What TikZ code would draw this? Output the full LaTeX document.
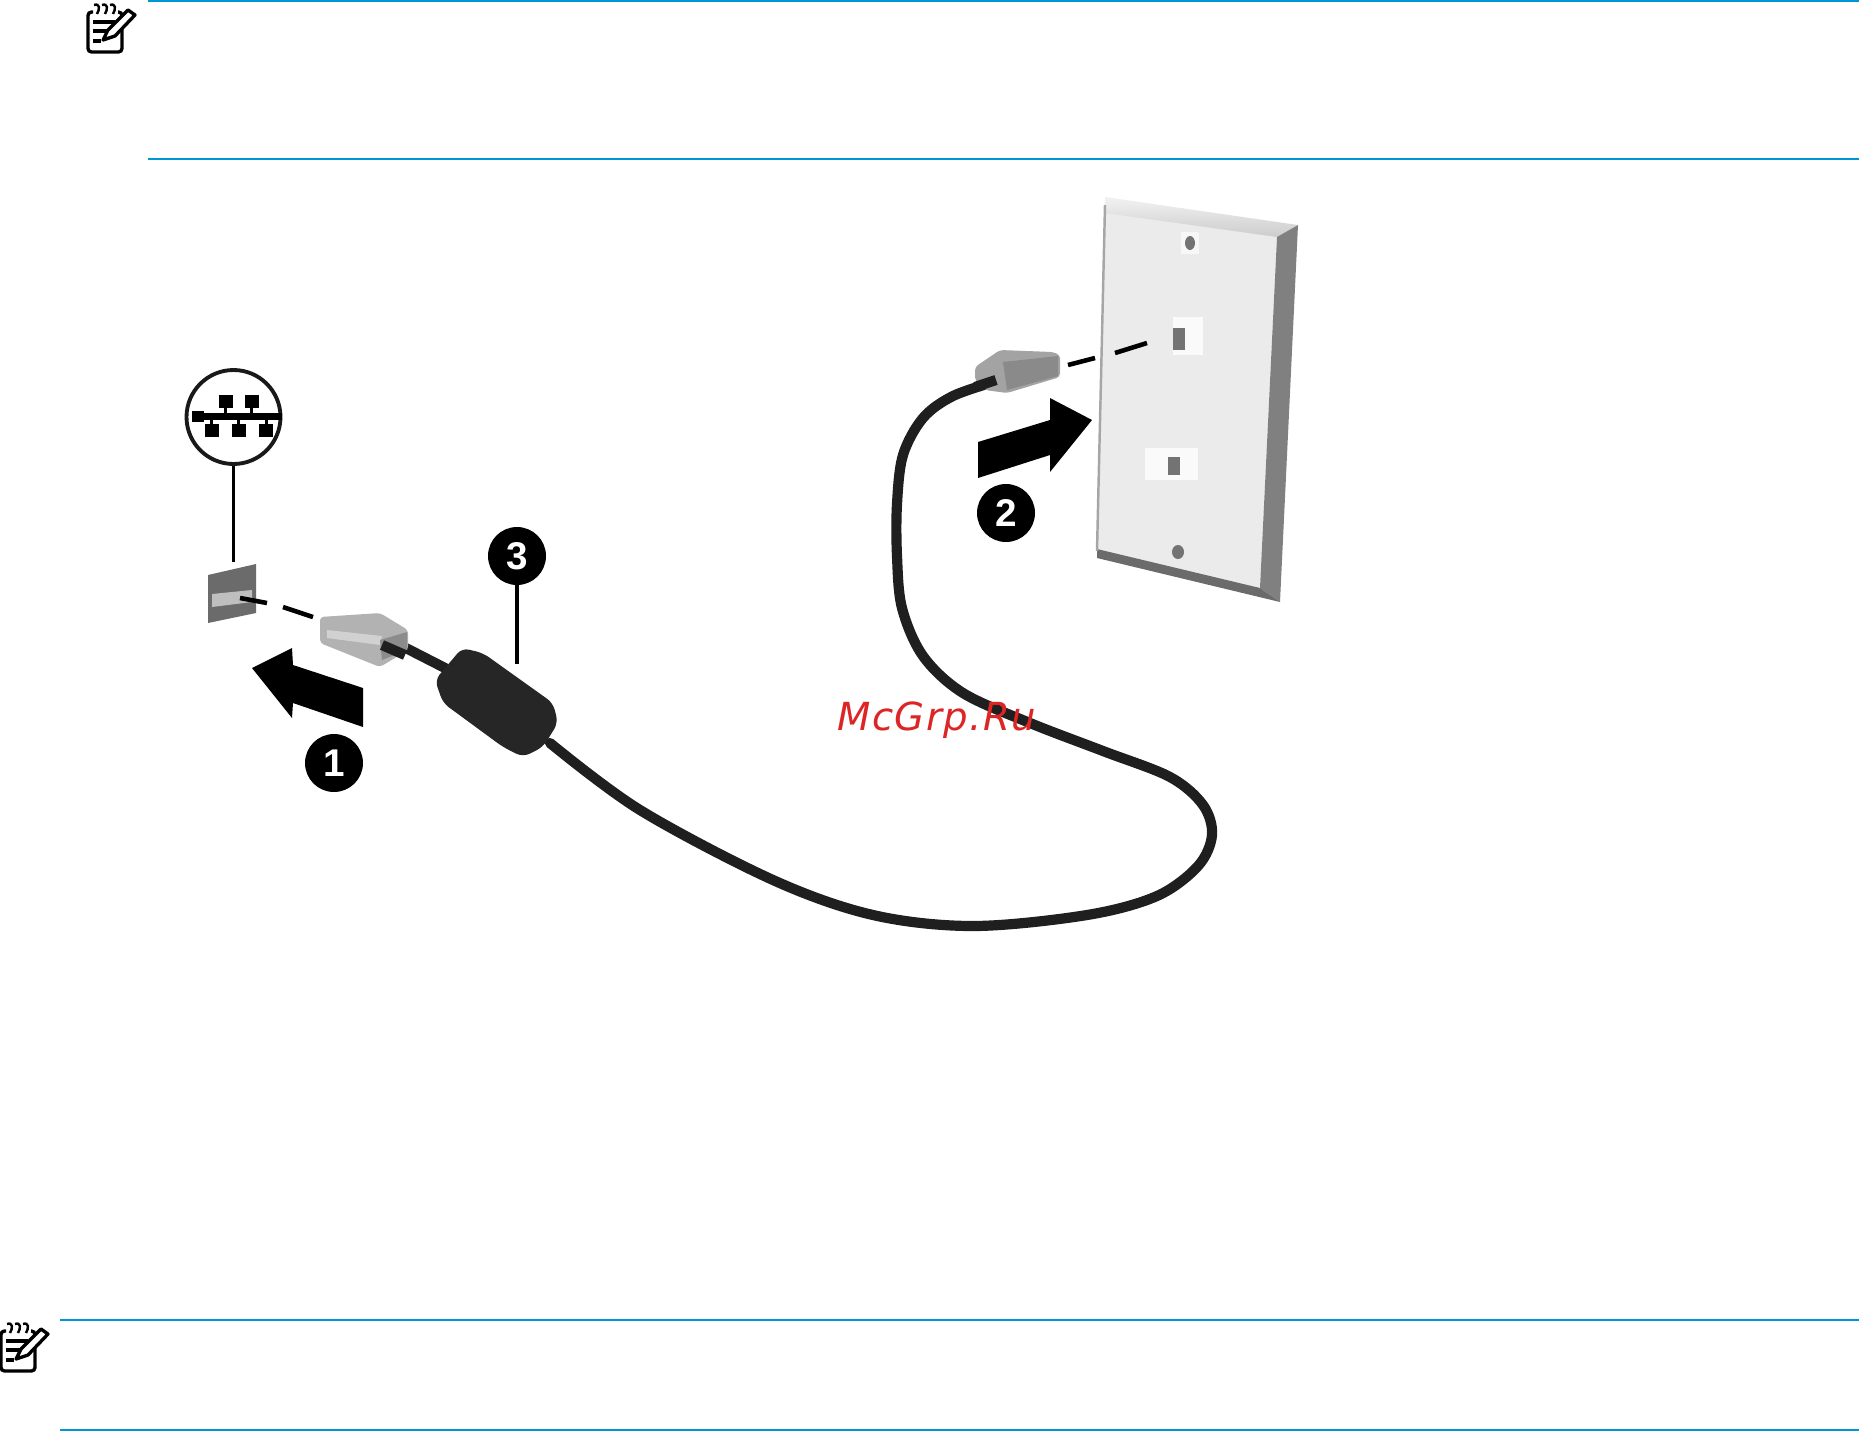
\documentclass[tikz,border=0pt]{standalone}
\usepackage{fontspec}
\setmainfont{DejaVu Sans}
\newfontfamily\badgefont{Liberation Sans}
\newfontfamily\markfont[LetterSpace=3.8]{DejaVu Sans}
\usepackage{tikz}
\definecolor{hpblue}{HTML}{0096D6}
\definecolor{markred}{HTML}{DC2626}
\tikzset{
	badge/.style={circle, fill=black, text=white, minimum size=1.16cm, inner sep=0pt, font=\badgefont\bfseries\fontsize{22}{22}\selectfont},
	leader/.style={line width=2.2pt, color=black},
	notepen/.style={line width=1.9pt, color=black},
	rulebar/.style={line width=1.1pt, color=hpblue},
	cablewire/.style={line width=5.8pt, color=black!88, line cap=round},
	dashbit/.style={line width=2.6pt, color=black},
}
\def\noteicon(#1,#2){
	\begin{scope}[shift={(#1,#2)}]
		\draw[notepen, rounded corners=2pt] (30,12) -- (34,12) -- (34,52) -- (0,52) -- (0,12) -- (5,12);
		\foreach \ringx in {9,17,25}
			\draw[notepen, line width=1.4pt] (\ringx-3,5) .. controls (\ringx+3,3) and (\ringx+3,9) .. (\ringx,14);
		\draw[notepen, line width=2.2pt] (5,22) -- (27,22);
		\draw[notepen, line width=2.2pt] (5,31) -- (19,31);
		\draw[notepen, line width=2.2pt] (5,41) -- (13,41);
		\draw[notepen, fill=white, line join=round] (15,40) -- (20,30) -- (40,10) -- (47,15) -- (27,36) -- cycle;
		\fill[black] (15,40) -- (17,35) -- (20,38) -- cycle;
	\end{scope}
}
\begin{document}
\begin{tikzpicture}[x=0.02cm, y=-0.02cm]
	%%%%% START %%%%%
	\useasboundingbox (0,0) rectangle (1859,1431);

	% rules and note icons
	\draw[rulebar] (148,1) -- (1859,1);
	\draw[rulebar] (148,159) -- (1859,159);
	\draw[rulebar] (60,1320) -- (1859,1320);
	\draw[rulebar] (60,1430) -- (1859,1430);
	\noteicon(88,0)
	\noteicon(1,1319)

	% wall plate
	\fill[black!8] (1105,197) -- (1277,225) -- (1277,237) -- (1260,590) -- (1097,553) -- cycle;
	\shade[top color=black!5, bottom color=black!20] (1105,197) -- (1298,225) -- (1277,237) -- (1105,213) -- cycle;
	\fill[black!50] (1298,225) -- (1280,602) -- (1260,588) -- (1277,237) -- cycle;
	\fill[black!58] (1097,549) -- (1260,588) -- (1280,602) -- (1097,558) -- cycle;
	\draw[line width=1.4pt, color=black!35] (1105,205) -- (1097,551);

	\fill[black!3] (1181,232) rectangle (1199,254);
	\fill[black!55] (1190,243) ellipse (5 and 7);
	\fill[black!55] (1178,552) ellipse (6 and 7);
	\fill[black!2] (1173,317) rectangle (1203,355);
	\fill[black!55] (1173,328) rectangle (1185,350);
	\fill[black!2] (1145,448) rectangle (1198,480);
	\fill[black!55] (1168,457) rectangle (1180,475);

	% cable
	\draw[cablewire] plot[smooth, tension=0.55] coordinates {(550,743) (640,810) (773,880) (873,915) (973,926) (1087,915) (1157,896) (1198,866) (1212,835) (1203,805) (1170,777) (1103,751) (1030,723) (963,693) (923,656) (902,608) (897,556) (897,504) (903,455) (923,418) (953,396) (997,381)};
	\draw[cablewire] (400,645) -- (445,668);

	% plug at the wall
	\fill[black!36, rounded corners=2pt] (975,367) -- (1000,350) -- (1053,352) -- (1060,355) -- (1060,377) -- (1007,393) -- (985,390) -- (975,380) -- cycle;
	\fill[black!46] (1003,362) -- (1058,356) -- (1058,376) -- (1007,390) -- cycle;
	\draw[cablewire, line cap=butt] (975,387) -- (996,380);
	\draw[dashbit] (1068,365) -- (1095,358);
	\draw[dashbit] (1115,353) -- (1147,343);

	% arrow and badge at the wall
	\fill[black] (978,442) -- (1050,420) -- (1050,398) -- (1092,420) -- (1050,472) -- (1050,455) -- (978,478) -- cycle;
	\node[badge] (two) at (1006,513) {2};

	% network jack
	\fill[black!58] (208,575) -- (256,564) -- (256,613) -- (208,623) -- cycle;
	\fill[black!25] (212,594) -- (252,590) -- (252,602) -- (212,607) -- cycle;
	\coordinate (jacktop) at (233.5,562);
	\draw[dashbit] (240,598) -- (267,603);
	\draw[dashbit] (283,607) -- (313,617);

	% network symbol
	\node[circle, draw=black!90, line width=2.2pt, minimum size=1.88cm, inner sep=0pt] (netsym) at (233.5,417) {};
	\draw[leader] (netsym) -- (jacktop);
	\fill[black] (192,413) rectangle (282,420);
	\fill[black] (192,411) rectangle (204,422);
	\foreach \termx in {225.5,251.5} {
		\fill[black] (\termx-7,395) rectangle (\termx+7,408);
		\fill[black] (\termx-1.5,408) rectangle (\termx+1.5,413);
	}
	\foreach \termx in {211.5,238.5,266} {
		\fill[black] (\termx-7,424) rectangle (\termx+7,437);
		\fill[black] (\termx-1.5,420) rectangle (\termx+1.5,424);
	}

	% plug at the jack
	\fill[black!30, rounded corners=2pt] (320,617) -- (380,613) -- (408,630) -- (408,650) -- (380,667) -- (320,643) -- cycle;
	\fill[black!18] (327,630) -- (382,636) -- (380,645) -- (327,638) -- cycle;
	\fill[black!45] (380,640) -- (407,632) -- (407,650) -- (382,660) -- cycle;
	\draw[cablewire, line cap=butt] (382,645) -- (405,655);

	% arrow and badge at the jack
	\fill[black] (252,668) -- (292,648) -- (293,665) -- (363,688) -- (363,727) -- (293,703) -- (292,718) -- cycle;
	\node[badge] (one) at (334,763) {1};

	% ferrite
	\fill[black!85, rounded corners=4pt] (435,680) -- (462,648) -- (483,653) -- (553,703) -- (558,723) -- (543,747) -- (523,757) -- (503,747) -- (443,703) -- cycle;
	\node[badge] (three) at (517,556) {3};
	\coordinate (ferritetop) at (517,664);
	\draw[leader] (three) -- (ferritetop);

	% watermark
	\node[anchor=base west, inner sep=0pt, text=markred, font=\markfont\itshape\fontsize{22}{22}\selectfont] (mark) at (837,730) {McGrp.Ru};

	%%%%% END %%%%%
\end{tikzpicture}
\end{document}
